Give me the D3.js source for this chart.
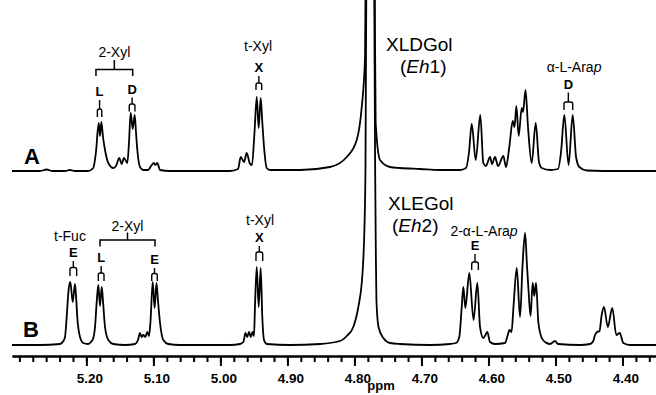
<!DOCTYPE html>
<html>
<head>
<meta charset="utf-8">
<script src="https://cdn.jsdelivr.net/npm/d3@7"></script>
<style>
  body { margin: 0; background: #fff; }
  svg { display: block; font-family: "Liberation Sans", Arial, Helvetica, sans-serif; }
</style>
</head>
<body>
<svg id="chart" width="656" height="395"></svg>
<script>
// spectrum A (XLDGol, Eh1): chemical shift (ppm) and intensity
var ppmA = [5.3110, 5.2692, 5.2592, 5.2513, 5.2319, 5.2245, 5.2170, 5.1976, 5.1897, 5.1857,
            5.1816, 5.1797, 5.1777, 5.1752, 5.1722, 5.1673, 5.1598, 5.1558, 5.1509, 5.1473,
            5.1439, 5.1389, 5.1364, 5.1339, 5.1309, 5.1279, 5.1260, 5.1240, 5.1200, 5.1151,
            5.1080, 5.1025, 5.0991, 5.0972, 5.0942, 5.0901, 5.0752, 5.0305, 4.9857, 4.9737,
            4.9697, 4.9648, 4.9608, 4.9558, 4.9529, 4.9491, 4.9458, 4.9429, 4.9399, 4.9375,
            4.9349, 4.9309, 4.9260, 4.8812, 4.8365, 4.8115, 4.7966, 4.7891, 4.7842, 4.7820,
            4.7763, 4.7708, 4.7693, 4.7683, 4.7618, 4.7469, 4.7320, 4.7021, 4.6723, 4.6425,
            4.6335, 4.6290, 4.6250, 4.6190, 4.6122, 4.6077, 4.6037, 4.5977, 4.5947, 4.5902,
            4.5857, 4.5778, 4.5738, 4.5689, 4.5638, 4.5611, 4.5584, 4.5549, 4.5504, 4.5484,
            4.5447, 4.5410, 4.5355, 4.5295, 4.5246, 4.5205, 4.5081, 4.4962, 4.4917, 4.4868,
            4.4805, 4.4743, 4.4693, 4.4644, 4.4534, 4.4037, 4.3500];
var intA = [1, 1, 2.5, 1, 1, 2, 1, 1, 4, 20,
            49, 36, 50, 35, 22, 9, 4, 6, 14, 8,
            14, 9, 30, 59, 43, 57, 40, 22, 5, 2,
            2, 7, 9, 7, 9, 2, 1, 1, 1, 3,
            15, 10, 19, 8, 7, 40, 75, 44, 74, 50,
            25, 4, 2, 2, 5, 15, 32, 65, 115, 300,
            3000, 400, 132, 49, 12, 5, 4, 3, 2, 2,
            4, 20, 48, 12, 57, 9, 6, 15, 8, 15,
            6, 16, 5, 25, 51, 45, 66, 36, 64, 60,
            82, 45, 9, 49, 10, 4, 2, 3, 20, 57,
            7, 57, 15, 5, 1.5, 1, 1];

// spectrum B (XLEGol, Eh2)
var ppmB = [5.3110, 5.2692, 5.2394, 5.2344, 5.2319, 5.2294, 5.2267, 5.2240, 5.2204, 5.2170,
            5.2150, 5.2136, 5.2095, 5.2046, 5.1976, 5.1931, 5.1897, 5.1871, 5.1845, 5.1822,
            5.1797, 5.1771, 5.1749, 5.1722, 5.1673, 5.1598, 5.1424, 5.1275, 5.1230, 5.1200,
            5.1175, 5.1151, 5.1121, 5.1091, 5.1066, 5.1043, 5.1010, 5.0982, 5.0954, 5.0931,
            5.0901, 5.0852, 5.0778, 5.0603, 4.9857, 4.9708, 4.9658, 4.9626, 4.9600, 4.9573,
            4.9546, 4.9521, 4.9499, 4.9484, 4.9458, 4.9429, 4.9399, 4.9375, 4.9349, 4.9309,
            4.8961, 4.8514, 4.8215, 4.8115, 4.8017, 4.7942, 4.7891, 4.7868, 4.7850, 4.7835,
            4.7820, 4.7765, 4.7708, 4.7690, 4.7681, 4.7672, 4.7641, 4.7569, 4.7469, 4.7320,
            4.6872, 4.6574, 4.6484, 4.6435, 4.6399, 4.6375, 4.6345, 4.6286, 4.6223, 4.6166,
            4.6126, 4.6077, 4.6044, 4.6017, 4.5977, 4.5902, 4.5753, 4.5716, 4.5686, 4.5656,
            4.5626, 4.5578, 4.5529, 4.5492, 4.5454, 4.5425, 4.5405, 4.5372, 4.5340, 4.5316,
            4.5290, 4.5256, 4.5205, 4.5156, 4.5081, 4.5007, 4.4962, 4.4634, 4.4485, 4.4435,
            4.4410, 4.4380, 4.4343, 4.4313, 4.4276, 4.4219, 4.4153, 4.4092, 4.4041, 4.3988,
            4.3888, 4.3500];
var intB = [1, 1, 2, 5, 9, 29, 55, 64, 44, 62,
            45, 29, 9, 3, 2, 4, 8, 19, 45, 61,
            40, 59, 42, 19, 6, 2, 1, 2, 6, 13,
            9, 11, 9, 14, 10, 25, 64, 38, 63, 45,
            23, 6, 2, 1, 1, 2, 4, 13, 9, 14,
            9, 14, 10, 40, 79, 39, 78, 29, 6, 2,
            1, 2, 5, 10, 19, 39, 63, 86, 120, 180,
            400, 3000, 400, 170, 96, 46, 19, 8, 3, 2,
            1, 2, 3, 9, 39, 59, 38, 73, 26, 63,
            19, 8, 11, 14, 4, 2, 3, 10, 16, 14,
            40, 78, 29, 80, 113, 80, 59, 30, 63, 50,
            63, 24, 8, 4, 2, 5, 2, 1, 2, 5,
            11, 14, 15, 30, 39, 19, 38, 11, 13, 3,
            1, 1];

// x axis
var majorTicks = [5.2, 5.1, 5.0, 4.9, 4.8, 4.7, 4.6, 4.5, 4.4];
var tickLabels = ["5.20", "5.10", "5.00", "4.90", "4.80", "4.70", "4.60", "4.50", "4.40"];

// doublet assignments: letter and the two ppm ends of the bracket
var markLetters = ["L", "D", "X", "D", "E", "L", "E", "X", "E"];
var markPanels  = ["A", "A", "A", "A", "B", "B", "B", "B", "B"];
var markFrom    = [5.1836, 5.1360, 4.9469, 4.4873, 5.2245, 5.1822, 5.1025, 4.9469, 4.6250];
var markTo      = [5.1770, 5.1275, 4.9384, 4.4743, 5.2145, 5.1737, 5.0942, 4.9369, 4.6151];

var W = 656, H = 395;
var svg = d3.select("#chart");

var x = d3.scaleLinear().domain([5.311, 4.350]).range([12, 656]);
var yA = d3.scaleLinear().domain([0, 100]).range([172, 72]);
var yB = d3.scaleLinear().domain([0, 100]).range([346, 246]);

function drawSpectrum(ppm, inten, y) {
  var line = d3.line()
    .x(function (d) { return x(d[0]); })
    .y(function (d) { return y(d[1]); })
    .curve(d3.curveMonotoneX);
  svg.append("path")
    .datum(d3.zip(ppm, inten))
    .attr("d", line)
    .attr("fill", "none")
    .attr("stroke", "#000")
    .attr("stroke-width", 1.8)
    .attr("stroke-linejoin", "round");
}
drawSpectrum(ppmB, intB, yB);
drawSpectrum(ppmA, intA, yA);

// axis: minor ticks every 0.02 ppm, labelled majors every 0.1
var axisY = 356;
svg.append("g")
  .attr("transform", "translate(0," + axisY + ")")
  .call(d3.axisBottom(x).tickValues(d3.range(4.36, 5.31, 0.02)).tickSize(6).tickSizeOuter(0).tickFormat(""))
  .call(function (g) {
    g.select(".domain").attr("stroke-width", 2);
    g.selectAll(".tick line").attr("stroke-width", 2);
  });
svg.append("g")
  .attr("transform", "translate(0," + axisY + ")")
  .call(d3.axisBottom(x).tickValues(majorTicks).tickSize(10).tickSizeOuter(0).tickPadding(7)
    .tickFormat(function (d, i) { return tickLabels[i]; }))
  .call(function (g) {
    g.select(".domain").attr("stroke-width", 2);
    g.selectAll(".tick line").attr("stroke-width", 2);
    g.selectAll(".tick text")
      .attr("dx", 3)
      .style("font-family", "'Liberation Sans', Arial, sans-serif")
      .style("font-size", "13.5px")
      .style("font-weight", "bold")
      .attr("fill", "#000");
  });
svg.append("text")
  .attr("x", 381).attr("y", 390)
  .attr("text-anchor", "middle")
  .style("font-size", "13px").style("font-weight", "bold")
  .text("ppm");

// panel letters
svg.append("text").attr("x", 24).attr("y", 164)
  .style("font-size", "22px").style("font-weight", "bold").text("A");
svg.append("text").attr("x", 23).attr("y", 337)
  .style("font-size", "22px").style("font-weight", "bold").text("B");

// compound names
function compound(name, enz, xName, yName, xEnz, yEnz) {
  svg.append("text").attr("x", xName).attr("y", yName)
    .style("font-size", "19px").text(name);
  var t = svg.append("text").attr("x", xEnz).attr("y", yEnz).style("font-size", "19px");
  t.append("tspan").text("(");
  t.append("tspan").style("font-style", "italic").text("Eh");
  t.append("tspan").text(enz + ")");
}
compound("XLDGol", "1", 386, 51, 400, 72.5);
compound("XLEGol", "2", 388, 210, 392, 231.5);

// doublet markers: letter, stem and an arch over the two lines
var markLayout = [
  [96, 109, 117], [93.5, 104, 111.5], [72, 83, 90], [88.5, 102, 110],
  [257, 267.5, 276], [262, 273, 281], [264, 273.5, 281], [242, 252, 261], [250, 262, 270]
];
markLetters.forEach(function (letter, i) {
  var x0 = x(markFrom[i]), x1 = x(markTo[i]), xm = (x0 + x1) / 2;
  var lay = markLayout[i];
  svg.append("text").attr("x", xm).attr("y", lay[0])
    .attr("text-anchor", "middle")
    .style("font-size", "13px").style("font-weight", "bold")
    .text(letter);
  svg.append("line")
    .attr("x1", xm).attr("x2", xm).attr("y1", lay[0] + 4).attr("y2", lay[1])
    .attr("stroke", "#000").attr("stroke-width", 1.4);
  var r = Math.min(2, (x1 - x0) / 2);
  svg.append("path")
    .attr("d", "M" + x0 + "," + lay[2] + "V" + (lay[1] + r) +
      "Q" + x0 + "," + lay[1] + " " + (x0 + r) + "," + lay[1] +
      "H" + (x1 - r) + "Q" + x1 + "," + lay[1] + " " + x1 + "," + (lay[1] + r) +
      "V" + lay[2])
    .attr("fill", "none").attr("stroke", "#000").attr("stroke-width", 1.4);
});

// residue labels
function label(txt, italicTail, ppm, yy) {
  var t = svg.append("text").attr("x", x(ppm)).attr("y", yy)
    .attr("text-anchor", "middle").style("font-size", "14px");
  t.append("tspan").text(txt);
  if (italicTail) t.append("tspan").style("font-style", "italic").text(italicTail);
}
label("t-Xyl", null, 4.9439, 51);
label("t-Xyl", null, 4.9409, 225);
label("t-Fuc", null, 5.2245, 241);
label("\u03b1-L-Ara", "p", 4.4723, 72);
label("2-\u03b1-L-Ara", "p", 4.6066, 236);

// 2-Xyl brackets joining two doublets
function bracket(p0, p1, yLine, yEnd, yTick, yText) {
  var x0 = x(p0), x1 = x(p1), xm = (x0 + x1) / 2;
  svg.append("path")
    .attr("d", "M" + x0 + "," + yEnd + "V" + yLine + "H" + x1 + "V" + yEnd +
      "M" + xm + "," + yLine + "V" + yTick)
    .attr("fill", "none").attr("stroke", "#000").attr("stroke-width", 1.5);
  svg.append("text").attr("x", xm).attr("y", yText)
    .attr("text-anchor", "middle").style("font-size", "14px").text("2-Xyl");
}
bracket(5.1857, 5.1309, 69.5, 76, 60, 57);
bracket(5.1797, 5.0976, 240, 246.5, 232.5, 230.5);
</script>
</body>
</html>
